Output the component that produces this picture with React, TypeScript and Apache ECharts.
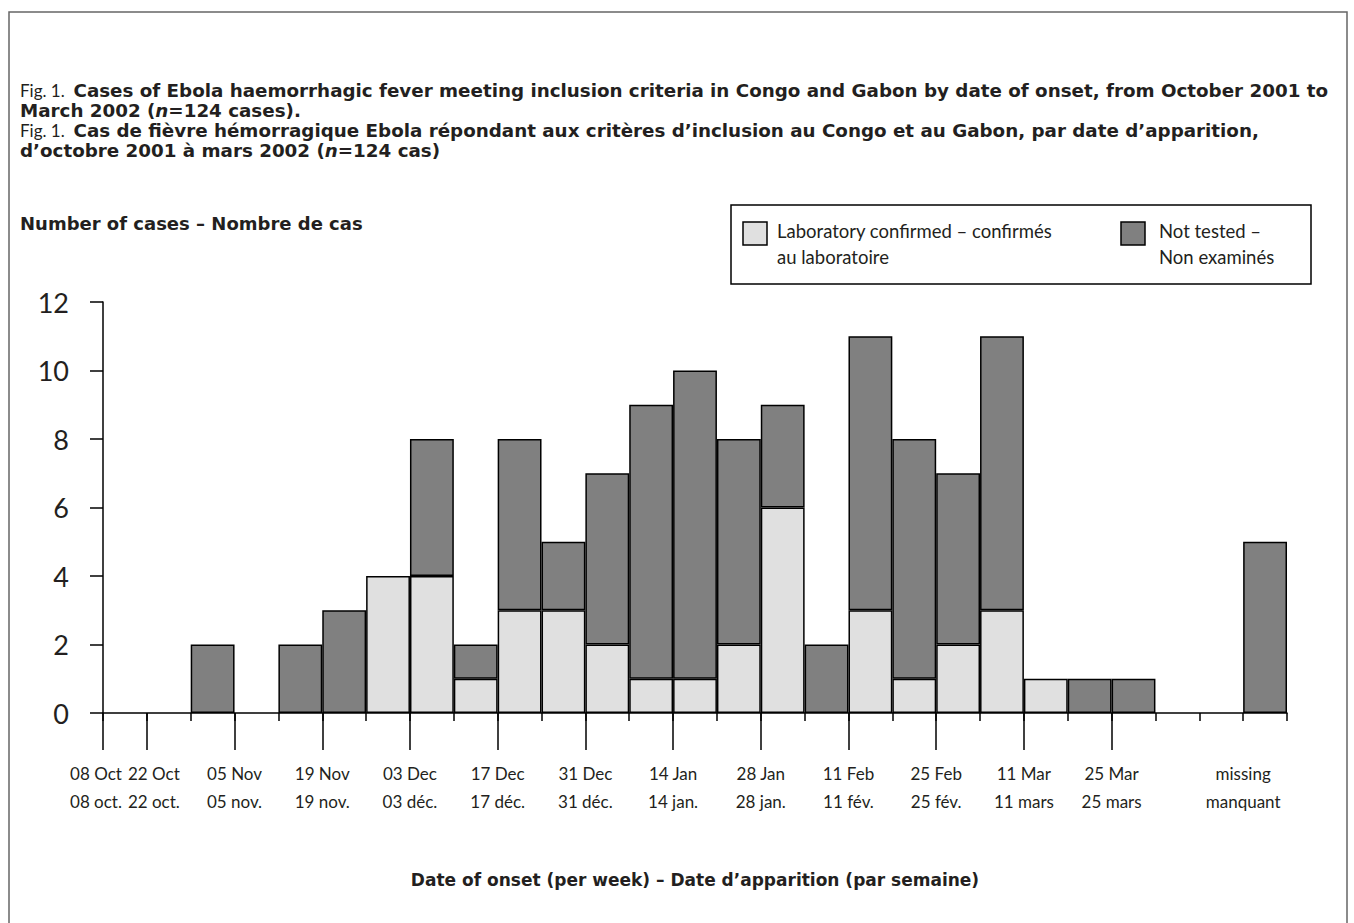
import React, { useEffect, useRef } from "react";
import * as echarts from "echarts";

// 27 weekly slots (26 weeks + "missing")
const slots: string[] = [
  "w01", "w02", "w03", "w04", "w05", "w06", "w07", "w08", "w09", "w10",
  "w11", "w12", "w13", "w14", "w15", "w16", "w17", "w18", "w19", "w20",
  "w21", "w22", "w23", "w24", "w25", "w26", "missing",
];
const labConfirmed: number[] = [0, 0, 0, 0, 0, 0, 4, 4, 1, 3, 3, 2, 1, 1, 2, 6, 0, 3, 1, 2, 3, 1, 0, 0, 0, 0, 0];
const notTested: number[] = [0, 0, 2, 0, 2, 3, 0, 4, 1, 5, 2, 5, 8, 9, 6, 3, 2, 8, 7, 5, 8, 0, 1, 1, 0, 0, 5];

// tick labels placed at slot boundaries (boundary index -> label)
const labelPositions: number[] = [0, 1, 3, 5, 7, 9, 11, 13, 15, 17, 19, 21, 23, 26];
const labelTexts: string[] = [
  "08 Oct\n08 oct.", "22 Oct\n22 oct.", "05 Nov\n05 nov.", "19 Nov\n19 nov.",
  "03 Dec\n03 déc.", "17 Dec\n17 déc.", "31 Dec\n31 déc.", "14 Jan\n14 jan.",
  "28 Jan\n28 jan.", "11 Feb\n11 fév.", "25 Feb\n25 fév.", "11 Mar\n11 mars",
  "25 Mar\n25 mars", "missing\nmanquant",
];
const longTicks: number[] = [0, 1, 3, 5, 7, 9, 11, 13, 15, 17, 19, 21, 23];

const FONT = "Lato";
const BOLD = "DejaVu Sans";
const INK = "#231f20";

export default function App() {
  const ref = useRef<HTMLDivElement>(null);
  useEffect(() => {
    document.body.style.margin = "0";
    const chart = echarts.init(ref.current!, null, { renderer: "svg" });
    const nz = (v: number) => (v === 0 ? null : v);
    const lineStyle = { color: "#000", width: 1.5 };
    const boundaries = Array.from({ length: slots.length + 1 }, (_, i) => "b" + i);
    // labels spread over several axes so that ECharts never auto-hides a neighbour
    const setA = labelPositions.filter((p, k) => k % 2 === 0 && p !== 0);
    const setB = labelPositions.filter((p, k) => k % 2 === 1 && p !== 1);
    const labelFor = (i: number) => {
      const k = labelPositions.indexOf(i);
      return k < 0 ? "" : labelTexts[k];
    };
    const boundaryAxis = (set: number[], padding: number[], extra: any = {}) => ({
      type: "category",
      data: boundaries,
      boundaryGap: false,
      position: "bottom",
      axisLine: { show: false },
      splitLine: { show: false },
      axisTick: {
        show: true,
        length: 37,
        lineStyle,
        interval: (i: number) => set.indexOf(i) >= 0 && longTicks.indexOf(i) >= 0,
      },
      axisLabel: {
        show: true,
        showMinLabel: true,
        showMaxLabel: true,
        hideOverlap: false,
        interval: (i: number) => set.indexOf(i) >= 0,
        formatter: (_v: string, i: number) => labelFor(i),
        fontFamily: FONT,
        fontSize: 17,
        lineHeight: 28,
        margin: 46,
        padding,
        color: INK,
      },
      ...extra,
    });
    const option: any = {
      animation: false,
      backgroundColor: "#fff",
      textStyle: { fontFamily: FONT, color: INK },
      title: {
        left: 20,
        top: 80,
        padding: 0,
        text:
          "{r|Fig. 1.}  {b|Cases of Ebola haemorrhagic fever meeting inclusion criteria in Congo and Gabon by date of onset, from October 2001 to}\n" +
          "{b|March 2002 (}{bi|n}{b|=124 cases).}\n" +
          "{r|Fig. 1.}  {b|Cas de fièvre hémorragique Ebola répondant aux critères d’inclusion au Congo et au Gabon, par date d’apparition,}\n" +
          "{b|d’octobre 2001 à mars 2002 (}{bi|n}{b|=124 cas)}",
        textStyle: {
          fontFamily: FONT,
          lineHeight: 20,
          rich: {
            r: { fontFamily: FONT, fontSize: 17, fontWeight: "normal", color: INK, lineHeight: 20 },
            b: { fontFamily: BOLD, fontSize: 18.3, fontWeight: "bold", color: INK, lineHeight: 20 },
            bi: { fontFamily: BOLD, fontSize: 18.3, fontWeight: "bold", fontStyle: "italic", color: INK, lineHeight: 20 },
          },
        },
      },
      grid: { left: 103, right: 67, top: 302, bottom: 210, containLabel: false },
      xAxis: [
        {
          type: "category",
          data: slots,
          boundaryGap: true,
          axisLine: { show: true, lineStyle },
          axisTick: { show: true, interval: 0, length: 8, lineStyle },
          axisLabel: { show: false },
          splitLine: { show: false },
        },
        boundaryAxis(setA, [0, 0, 0, 0]),
        boundaryAxis(setB, [0, 0, 0, 0], {
          name: "Date of onset (per week) – Date d’apparition (par semaine)",
          nameLocation: "middle",
          nameGap: 158,
          nameTextStyle: { fontFamily: BOLD, fontSize: 17, fontWeight: "bold", color: INK },
        }),
        boundaryAxis([0], [0, 14, 0, 0]),
        boundaryAxis([1], [0, 0, 0, 14]),
      ],
      yAxis: {
        type: "value",
        min: 0,
        max: 12,
        interval: 2,
        axisLine: { show: true, lineStyle },
        axisTick: { show: true, length: 13, lineStyle },
        axisLabel: { fontFamily: FONT, fontSize: 27, margin: 34, color: INK },
        splitLine: { show: false },
      },
      series: [
        {
          name: "Laboratory confirmed",
          type: "bar",
          stack: "cases",
          xAxisIndex: 0,
          data: labConfirmed.map(nz),
          barCategoryGap: "0%",
          itemStyle: { color: "#e0e0e0", borderColor: "#000", borderWidth: 1.5 },
        },
        {
          name: "Not tested",
          type: "bar",
          stack: "cases",
          xAxisIndex: 0,
          data: notTested.map(nz),
          barCategoryGap: "0%",
          itemStyle: { color: "#808080", borderColor: "#000", borderWidth: 1.5 },
        },
      ],
      graphic: [
        {
          type: "rect",
          z: -10,
          shape: { x: 9, y: 12, width: 1338, height: 940 },
          style: { fill: "none", stroke: "#666", lineWidth: 1.5 },
        },
        {
          type: "text",
          x: 20,
          y: 223,
          style: {
            text: "Number of cases – Nombre de cas",
            fontFamily: BOLD,
            fontSize: 18,
            fontWeight: "bold",
            fill: INK,
            verticalAlign: "middle",
          },
        },
        {
          type: "rect",
          shape: { x: 731, y: 205, width: 580, height: 79 },
          style: { fill: "#fff", stroke: "#000", lineWidth: 1.5 },
        },
        {
          type: "rect",
          shape: { x: 743, y: 222, width: 24, height: 23 },
          style: { fill: "#e0e0e0", stroke: "#000", lineWidth: 1.5 },
        },
        {
          type: "text",
          x: 777,
          y: 244,
          style: {
            text: "Laboratory confirmed – confirmés\nau laboratoire",
            fontFamily: FONT,
            fontSize: 18.5,
            lineHeight: 26,
            fill: INK,
            verticalAlign: "middle",
          },
        },
        {
          type: "rect",
          shape: { x: 1121, y: 222, width: 24, height: 23 },
          style: { fill: "#808080", stroke: "#000", lineWidth: 1.5 },
        },
        {
          type: "text",
          x: 1159,
          y: 244,
          style: {
            text: "Not tested –\nNon examinés",
            fontFamily: FONT,
            fontSize: 18.5,
            lineHeight: 26,
            fill: INK,
            verticalAlign: "middle",
          },
        },
      ],
    };
    chart.setOption(option);
    return () => chart.dispose();
  }, []);
  return <div ref={ref} style={{ width: 1354, height: 923 }} />;
}
